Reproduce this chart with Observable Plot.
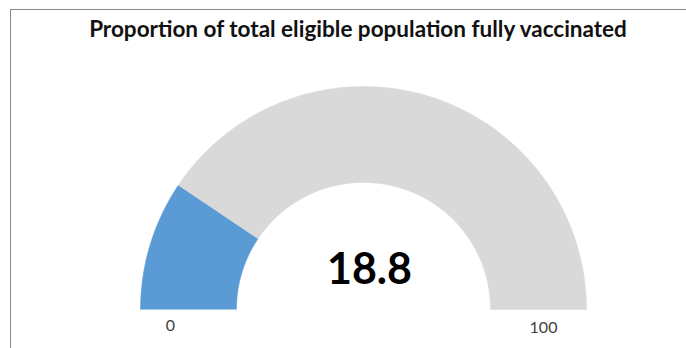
<!DOCTYPE html>
<html>
<head>
<meta charset="utf-8">
<script src="https://cdn.jsdelivr.net/npm/d3@7"></script>
<script src="https://cdn.jsdelivr.net/npm/@observablehq/plot@0.6"></script>
<style>
  body { margin: 0; background: #fff; font-family: Lato, "Open Sans", sans-serif; }
  #frame { position: absolute; left: 10px; top: 9px; width: 700px; height: 400px;
           border-top: 1px solid #8a8a8a; border-left: 1px solid #8a8a8a; pointer-events: none; }
  #title { height: 60px; padding-top: 17px; line-height: 24px; text-align: center;
           font-weight: bold; font-size: 22.5px; color: #111; width: 716px; box-sizing: border-box; }
  #chart svg { display: block; }
</style>
</head>
<body>
<div id="frame"></div>
<div id="title"></div>
<div id="chart"></div>
<script>
const title = "Proportion of total eligible population fully vaccinated";
const value = 18.8;            // fully vaccinated (%)
const scaleMin = 0;
const scaleMax = 100;
const segments = ["vaccinated", "remaining"];
const segmentColors = ["#5b9bd5", "#d9d9d9"];
const tickLabels = ["0", "100"];
const innerRatio = 127 / 223;  // hole size relative to outer radius

document.getElementById("title").textContent = title;

// build half-donut polygons from the value
function arc(v0, v1, name) {
  const pts = [];
  const n = 120;
  const ang = v => Math.PI * (1 - (v - scaleMin) / (scaleMax - scaleMin));
  for (let i = 0; i <= n; i++) {
    const a = ang(v0 + (v1 - v0) * i / n);
    pts.push({x: Math.cos(a), y: Math.sin(a), seg: name});
  }
  for (let i = n; i >= 0; i--) {
    const a = ang(v0 + (v1 - v0) * i / n);
    pts.push({x: innerRatio * Math.cos(a), y: innerRatio * Math.sin(a), seg: name});
  }
  return pts;
}
const pts = [...arc(scaleMin, value, segments[0]), ...arc(value, scaleMax, segments[1])];
const mid = (1 + innerRatio) / 2;

const chart = Plot.plot({
  width: 686,
  height: 288,
  margin: 0,
  x: {domain: [-1, 1], range: [140, 586], axis: null},
  y: {domain: [0, 1], range: [249, 26], axis: null},
  color: {domain: segments, range: segmentColors},
  marks: [
    Plot.line(pts, {x: "x", y: "y", z: "seg", fill: "seg", stroke: "seg", strokeWidth: 0.5, curve: "linear"}),
    Plot.text([{x: 0, y: 0, t: String(value)}], {x: "x", y: "y", text: "t", fontSize: 43, fontWeight: "bold",
      fill: "#000", textAnchor: "middle", lineAnchor: "bottom", dx: 6, dy: -26}),
    Plot.text([{x: -mid, y: 0, label: tickLabels[0]}], {x: "x", y: "y", text: "label", fontSize: 16, fill: "#404040",
      lineAnchor: "middle", dx: -18, dy: 16}),
    Plot.text([{x: mid, y: 0, label: tickLabels[1]}], {x: "x", y: "y", text: "label", fontSize: 16, fill: "#404040",
      lineAnchor: "middle", dx: 5, dy: 18})
  ],
  style: {fontFamily: "Lato, 'Open Sans', sans-serif", background: "transparent"}
});
document.getElementById("chart").appendChild(chart);
</script>
</body>
</html>
